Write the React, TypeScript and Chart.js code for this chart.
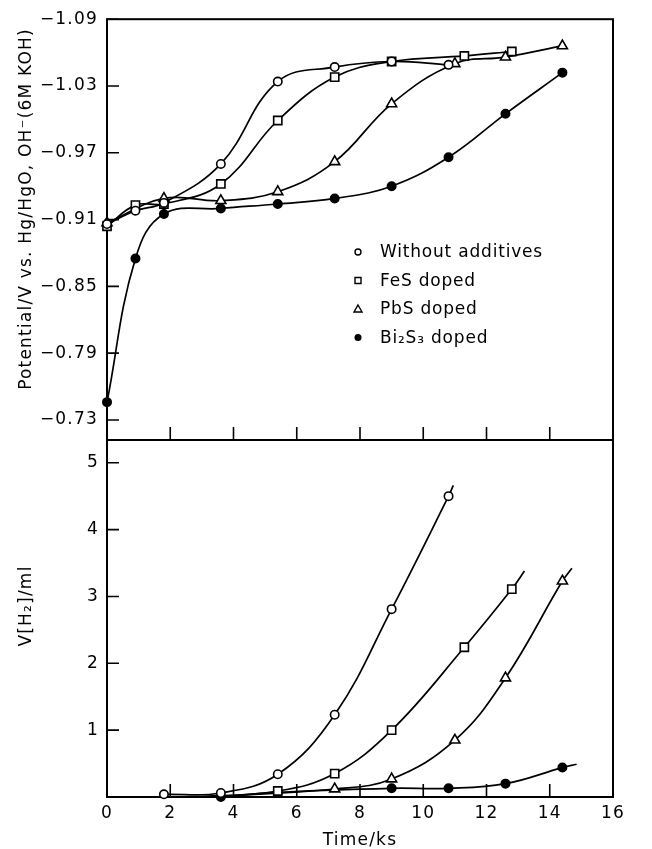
import React, { useEffect, useRef } from "react";
import { Chart, registerables } from "chart.js";
Chart.register(...registerables);

// ---------- Top panel: potential (V) vs time (ks) ----------
const withoutT = [0, 0.9, 1.8, 3.6, 5.4, 7.2, 9.0, 10.8];
const withoutE = [-0.906, -0.918, -0.925, -0.960, -1.034, -1.047, -1.052, -1.049];

const fesT = [0, 0.9, 1.8, 3.6, 5.4, 7.2, 9.0, 11.3, 12.8];
const fesE = [-0.904, -0.923, -0.924, -0.942, -0.999, -1.038, -1.052, -1.057, -1.061];

const pbsT = [0, 1.8, 3.6, 5.4, 7.2, 9.0, 11.0, 12.6, 14.4];
const pbsE = [-0.907, -0.929, -0.927, -0.935, -0.962, -1.014, -1.050, -1.056, -1.066];

const biT = [0, 0.9, 1.8, 3.6, 5.4, 7.2, 9.0, 10.8, 12.6, 14.4];
const biE = [-0.746, -0.875, -0.915, -0.920, -0.924, -0.929, -0.940, -0.966, -1.005, -1.042];

// ---------- Bottom panel: V[H2] (ml) vs time (ks) ----------
const withoutHt = [1.8, 3.6, 5.4, 7.2, 9.0, 10.8];
const withoutHv = [0.04, 0.06, 0.34, 1.23, 2.81, 4.50];
const withoutHend = [10.95, 4.66]; // unmarked end of drawn curve

const fesHt = [5.4, 7.2, 9.0, 11.3, 12.8];
const fesHv = [0.09, 0.35, 1.0, 2.24, 3.11];
const fesHstart = [2.6, 0.0];
const fesHend = [13.2, 3.38];

const pbsHt = [7.2, 9.0, 11.0, 12.6, 14.4];
const pbsHv = [0.12, 0.27, 0.85, 1.78, 3.23];
const pbsHstart = [3.2, 0.0];
const pbsHend = [14.7, 3.42];

const biHt = [3.6, 5.4, 9.0, 10.8, 12.6, 14.4];
const biHv = [0.0, 0.07, 0.13, 0.13, 0.2, 0.44];
const biHend = [14.85, 0.49];

// ---------- Axes ----------
const xTickValues = [0, 2, 4, 6, 8, 10, 12, 14, 16];
const xInnerTicks = [2, 4, 6, 8, 10, 12, 14];
const potentialTicks = [-1.09, -1.03, -0.97, -0.91, -0.85, -0.79, -0.73];
const volumeTicks = [1, 2, 3, 4, 5];

const seriesNames = ["Without additives", "FeS doped", "PbS doped", "Bi\u2082S\u2083 doped"];
const topTitle = "Potential/V vs. Hg/HgO, OH\u207B(6M KOH)";
const bottomTitle = "V[H\u2082]/ml";
const xTitle = "Time/ks";

const FONT = "DejaVu Sans";
const styles = [
  { pointStyle: "circle", bg: "#fff", r: 4.2 },
  { pointStyle: "rect", bg: "#fff", r: 5.8 },
  { pointStyle: "triangle", bg: "#fff", r: 5.8 },
  { pointStyle: "circle", bg: "#000", r: 4.2 },
];

function makeDataset(i: number, xs: number[], ys: number[], start?: number[], end?: number[]) {
  const pts: { x: number; y: number }[] = [];
  const radii: number[] = [];
  if (start) { pts.push({ x: start[0], y: start[1] }); radii.push(0); }
  xs.forEach((x, k) => { pts.push({ x, y: ys[k] }); radii.push(styles[i].r); });
  if (end) { pts.push({ x: end[0], y: end[1] }); radii.push(0); }
  return {
    label: seriesNames[i],
    data: pts,
    showLine: true,
    borderColor: "#000",
    borderWidth: 1.7,
    tension: 0.4,
    pointStyle: styles[i].pointStyle,
    pointRadius: radii,
    pointBackgroundColor: styles[i].bg,
    pointBorderColor: "#000",
    pointBorderWidth: 1.6,
    clip: false,
  };
}

const spacingPlugin = {
  id: "spacing",
  beforeDraw(chart: any) {
    (chart.ctx as any).letterSpacing = "1.2px";
  },
};

function framePlugin(yInner: number[], legend: boolean, yTitle: string, yTitleCenter: number, xTitleText?: string) {
  return {
    id: "frame",
    beforeDatasetsDraw(chart: any) {
      const { ctx, chartArea: a, scales } = chart;
      ctx.save();
      ctx.strokeStyle = "#000";
      ctx.lineWidth = 2;
      ctx.strokeRect(a.left, a.top, a.right - a.left, a.bottom - a.top);
      ctx.lineWidth = 1.6;
      ctx.beginPath();
      xInnerTicks.forEach((v) => {
        const px = scales.x.getPixelForValue(v);
        ctx.moveTo(px, a.bottom);
        ctx.lineTo(px, a.bottom - 13);
      });
      yInner.forEach((v) => {
        const py = scales.y.getPixelForValue(v);
        ctx.moveTo(a.left, py);
        ctx.lineTo(a.left + 12, py);
      });
      ctx.stroke();
      ctx.restore();
    },
    afterDraw(chart: any) {
      const { ctx, chartArea: a } = chart;
      ctx.save();
      ctx.font = `17px "${FONT}"`;
      ctx.fillStyle = "#000";
      (ctx as any).letterSpacing = "1.2px";
      // y title (rotated)
      ctx.save();
      ctx.translate(27, yTitleCenter);
      ctx.rotate(-Math.PI / 2);
      ctx.textAlign = "center";
      ctx.textBaseline = "middle";
      ctx.fillText(yTitle, 0, 0);
      ctx.restore();
      // x title
      if (xTitleText) {
        ctx.textAlign = "center";
        ctx.textBaseline = "middle";
        ctx.fillText(xTitleText, (a.left + a.right) / 2, 841);
      }
      if (legend) {
        const mx = a.left + 251;
        const tx = a.left + 273;
        const y0 = 252;
        const dy = 28.5;
        ctx.textBaseline = "middle";
        ctx.textAlign = "left";
        (ctx as any).letterSpacing = "0.8px";
        seriesNames.forEach((name, i) => {
          const y = y0 + i * dy;
          ctx.lineWidth = 1.4;
          ctx.strokeStyle = "#000";
          ctx.beginPath();
          if (i === 0) { ctx.arc(mx, y, 3, 0, Math.PI * 2); ctx.stroke(); }
          if (i === 1) { ctx.rect(mx - 3, y - 3, 6, 6); ctx.stroke(); }
          if (i === 2) { ctx.moveTo(mx, y - 4); ctx.lineTo(mx + 4, y + 3); ctx.lineTo(mx - 4, y + 3); ctx.closePath(); ctx.stroke(); }
          if (i === 3) { ctx.arc(mx, y, 3.5, 0, Math.PI * 2); ctx.fill(); }
          ctx.fillText(name, tx, y + 1);
        });
      }
      ctx.restore();
    },
  };
}

export default function App() {
  const topRef = useRef<HTMLCanvasElement>(null);
  const botRef = useRef<HTMLCanvasElement>(null);

  useEffect(() => {
    Chart.defaults.font.family = FONT;
    Chart.defaults.color = "#000";
    const tickFont = { size: 17, family: FONT };

    const top = new Chart(topRef.current!, {
      type: "scatter",
      data: {
        datasets: [
          makeDataset(0, withoutT, withoutE),
          makeDataset(1, fesT, fesE),
          makeDataset(2, pbsT, pbsE),
          makeDataset(3, biT, biE),
        ] as any,
      },
      options: {
        responsive: false,
        animation: false,
        devicePixelRatio: 1,
        layout: { padding: { left: 0, top: 19, right: 39, bottom: 409 } },
        plugins: { legend: { display: false }, tooltip: { enabled: false } },
        scales: {
          x: { type: "linear", min: 0, max: 16, display: false },
          y: {
            type: "linear",
            reverse: true,
            min: -1.09,
            max: -0.712,
            afterFit: (s: any) => { s.width = 107; },
            afterBuildTicks: (s: any) => { s.ticks = potentialTicks.map((v) => ({ value: v })); },
            grid: { display: false, drawTicks: false },
            border: { display: false },
            ticks: {
              padding: 9,
              color: "#000",
              font: tickFont,
              callback: (v: any) => "\u2212" + Math.abs(Number(v)).toFixed(2),
            },
            title: { display: false },
          },
        },
      } as any,
      plugins: [spacingPlugin, framePlugin(potentialTicks, true, topTitle, 209)],
    });

    const bot = new Chart(botRef.current!, {
      type: "scatter",
      data: {
        datasets: [
          makeDataset(0, withoutHt, withoutHv, undefined, withoutHend),
          makeDataset(1, fesHt, fesHv, fesHstart, fesHend),
          makeDataset(2, pbsHt, pbsHv, pbsHstart, pbsHend),
          makeDataset(3, biHt, biHv, undefined, biHend),
        ] as any,
      },
      options: {
        responsive: false,
        animation: false,
        devicePixelRatio: 1,
        layout: { padding: { left: 0, top: 440, right: 39, bottom: 0 } },
        plugins: { legend: { display: false }, tooltip: { enabled: false } },
        scales: {
          x: {
            type: "linear",
            min: 0,
            max: 16,
            afterFit: (s: any) => { s.height = 52; },
            afterBuildTicks: (s: any) => { s.ticks = xTickValues.map((v) => ({ value: v })); },
            grid: { display: false, drawTicks: false },
            border: { display: false },
            ticks: { padding: 6, color: "#000", font: tickFont, maxRotation: 0, autoSkip: false },
            title: { display: false },
          },
          y: {
            type: "linear",
            min: 0,
            max: 5.34,
            afterFit: (s: any) => { s.width = 107; },
            afterBuildTicks: (s: any) => { s.ticks = volumeTicks.map((v) => ({ value: v })); },
            grid: { display: false, drawTicks: false },
            border: { display: false },
            ticks: { padding: 8, color: "#000", font: tickFont },
            title: { display: false },
          },
        },
      } as any,
      plugins: [spacingPlugin, framePlugin(volumeTicks, false, bottomTitle, 606, xTitle)],
    });

    return () => { top.destroy(); bot.destroy(); };
  }, []);

  return (
    <div style={{ position: "absolute", left: 0, top: 0, width: 652, height: 849, background: "#fff" }}>
      <canvas ref={botRef} width={652} height={849} style={{ position: "absolute", left: 0, top: 0 }} />
      <canvas ref={topRef} width={652} height={849} style={{ position: "absolute", left: 0, top: 0 }} />
    </div>
  );
}
